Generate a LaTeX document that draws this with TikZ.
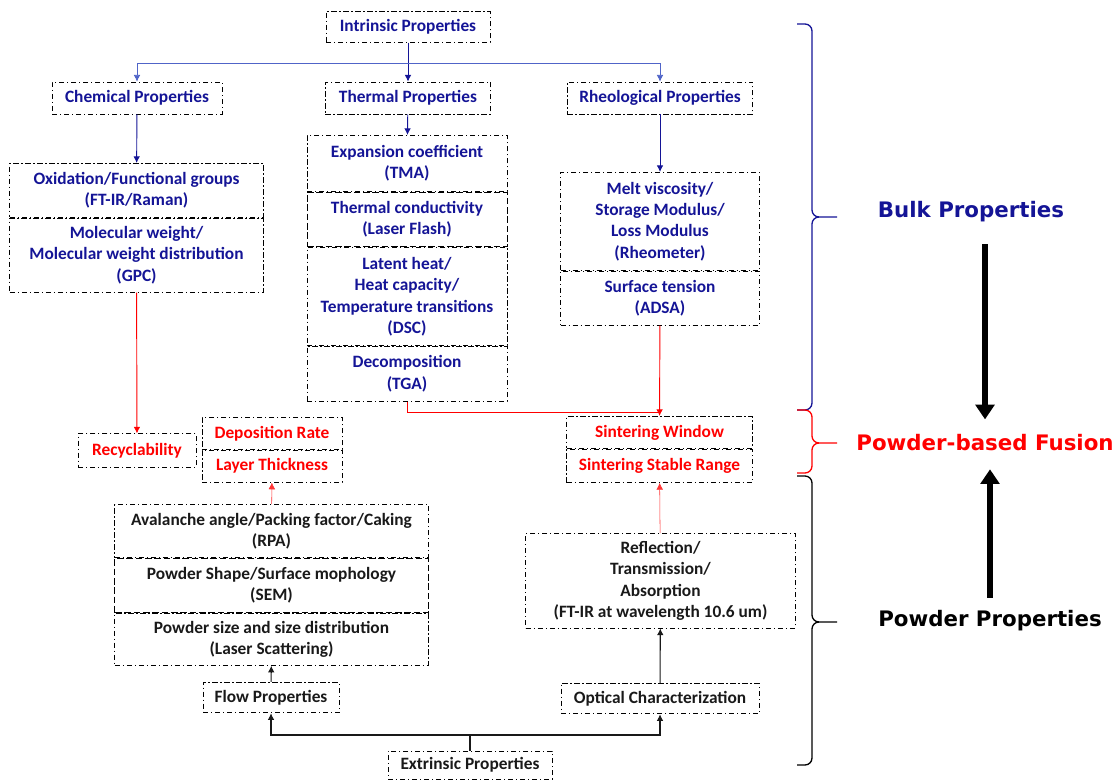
\documentclass[tikz,border=0pt]{standalone}
\usepackage{fontspec}
\setmainfont{Carlito}
\newfontfamily\headfont{DejaVu Sans}
\usepackage{xcolor}
\usetikzlibrary{arrows.meta,positioning}

\definecolor{navy}{RGB}{20,20,150}
\definecolor{linkblue}{RGB}{80,100,200}
\definecolor{fusered}{RGB}{255,0,0}
\definecolor{inkgray}{RGB}{25,25,25}

\begin{document}
\begin{tikzpicture}[x=0.75pt, y=-0.75pt,
  box/.style={draw=black, line width=0.6pt, dash pattern=on 4pt off 2pt on 1pt off 2pt,
    inner sep=2pt, align=center, font=\bfseries\fontsize{13}{16}\selectfont},
  dbox/.style={dash pattern=on 5pt off 2pt},
  bbox/.style={box, text=navy},
  rbox/.style={box, text=fusered},
  kbox/.style={box, text=inkgray},
  barr/.style={-{Latex[length=5pt,width=5pt]}, navy, line width=0.7pt},
  rarr/.style={-{Latex[length=5pt,width=5pt]}, fusered, line width=0.7pt},
  karr/.style={-{Latex[length=5pt,width=5pt]}, inkgray, line width=0.8pt},
  lbl/.style={font=\headfont\bfseries\fontsize{16}{19}\selectfont},
  bigarr/.style={line width=3.8pt, -{Triangle[length=11pt,width=14pt]}},
]
\useasboundingbox (0,0) rectangle (1119,780);

% Intrinsic properties and their three groups
\node[bbox, minimum width=123pt, minimum height=23pt] (intr) at (408,27) {Intrinsic Properties};
\node[bbox, minimum width=127.5pt, minimum height=24pt] (chem) at (137,98) {Chemical Properties};
\node[bbox, minimum width=124pt, minimum height=24pt] (therm) at (408,98) {Thermal Properties};
\node[bbox, minimum width=139pt, minimum height=24pt] (rheo) at (660,98) {Rheological Properties};

% Chemical column
\node[bbox, minimum width=190pt, minimum height=40.5pt, anchor=north] (oxid) at (136.5,163) {Oxidation/Functional groups\\(FT-IR/Raman)};
\node[bbox, minimum width=190pt, minimum height=55.5pt, below=0pt of oxid] (molw) {Molecular weight/\\Molecular weight distribution\\(GPC)};

% Thermal column
\node[bbox, minimum width=150pt, minimum height=42pt, anchor=north] (expan) at (407,135) {Expansion coefficient\\(TMA)};
\node[bbox, dbox, minimum width=150pt, minimum height=41pt, below=0pt of expan] (tcond) {Thermal conductivity\\(Laser Flash)};
\node[bbox, minimum width=150pt, minimum height=73.5pt, below=0pt of tcond] (latent) {Latent heat/\\Heat capacity/\\Temperature transitions\\(DSC)};
\node[bbox, minimum width=150pt, minimum height=41pt, below=0pt of latent] (decomp) {Decomposition\\(TGA)};

% Rheological column
\node[bbox, minimum width=149pt, minimum height=73.5pt, anchor=north] (melt) at (660,172) {Melt viscosity/\\Storage Modulus/\\Loss Modulus\\(Rheometer)};
\node[bbox, minimum width=149pt, minimum height=40.5pt, below=0pt of melt] (surf) {Surface tension\\(ADSA)};

% Powder-based fusion
\node[rbox, minimum width=88.5pt, minimum height=25pt] (recyc) at (137,450.5) {Recyclability};
\node[rbox, minimum width=105pt, minimum height=24pt, anchor=north] (depo) at (272,417) {Deposition Rate};
\node[rbox, minimum width=105pt, minimum height=24pt, below=0pt of depo] (layer) {Layer Thickness};
\node[rbox, minimum width=139pt, minimum height=24pt, anchor=north] (sinw) at (659.5,416) {Sintering Window};
\node[rbox, minimum width=139pt, minimum height=25pt, below=0pt of sinw] (sins) {Sintering Stable Range};

% Powder properties
\node[kbox, minimum width=235pt, minimum height=40pt, anchor=north] (aval) at (271.5,504) {Avalanche angle/Packing factor/Caking\\(RPA)};
\node[kbox, dbox, minimum width=235pt, minimum height=40.5pt, below=0pt of aval] (pshape) {Powder Shape/Surface mophology\\(SEM)};
\node[kbox, minimum width=235pt, minimum height=39pt, below=0pt of pshape] (psize) {Powder size and size distribution\\(Laser Scattering)};
\node[kbox, minimum width=202pt, minimum height=71pt, anchor=north] (refl) at (660.5,533) {Reflection/\\Transmission/\\Absorption\\ (FT-IR at wavelength 10.6 um)};
\node[kbox, minimum width=102pt, minimum height=23pt] (flow) at (271,697.5) {Flow Properties};
\node[kbox, minimum width=148.5pt, minimum height=23pt] (optic) at (660,698.5) {Optical Characterization};
\node[kbox, minimum width=123pt, minimum height=21pt] (extr) at (470,765) {Extrinsic Properties};

\coordinate (isplit) at (408,63);
\coordinate (rjoin) at (660,412);
\coordinate (esplit) at (470,735);

% Blue arrows
\draw[barr] (intr) -- (therm);
\draw[barr, linkblue, line width=0.5pt] (isplit) -| (chem);
\draw[barr, linkblue, line width=0.5pt] (isplit) -| (rheo);
\draw[barr] (chem) -- (oxid);
\draw[barr] (therm) -- (expan);
\draw[barr] (rheo) -- (melt);

% Red arrows
\draw[rarr] (molw) -- (recyc);
\draw[rarr] (surf) -- (sinw);
\draw[fusered, line width=0.7pt] (decomp) |- (rjoin);
\draw[rarr, fusered!80, line width=0.4pt] (aval) -- (layer);
\draw[rarr, fusered!80, line width=0.4pt] (refl) -- (sins);

% Black arrows
\draw[inkgray, line width=0.8pt] (extr) -- (esplit);
\draw[karr] (esplit) -| (flow);
\draw[karr] (esplit) -| (optic);
\draw[karr] (flow) -- (psize);
\draw[karr] (optic) -- (refl);

% Braces on the right
\foreach \ya/\ym/\yb/\col in {24/217/410/navy, 410/443/473/fusered, 476/622/765/black}{
  \draw[\col, line width=1pt] (797,\ya) -- (805,\ya) to[out=0,in=90] (812,\ya+7) -- (812,\ym-7)
    to[out=-90,in=180] (819,\ym) -- (837,\ym);
  \draw[\col, line width=1pt] (819,\ym) to[out=180,in=90] (812,\ym+7) -- (812,\yb-7)
    to[out=-90,in=0] (805,\yb) -- (797,\yb);
}

% Labels
\node[lbl, text=navy] (bulk) at (971,212) {Bulk Properties};
\node[lbl, text=fusered] (pbf) at (985,443) {Powder-based Fusion};
\node[lbl, text=black] (powder) at (990,621) {Powder Properties};
\draw[bigarr, shorten <=13pt, shorten >=8pt] (bulk.south -| pbf.north) -- (pbf.north);
\draw[bigarr, shorten <=6pt, shorten >=10pt] (powder.north) -- (pbf.south -| powder.north);

\end{tikzpicture}
\end{document}
